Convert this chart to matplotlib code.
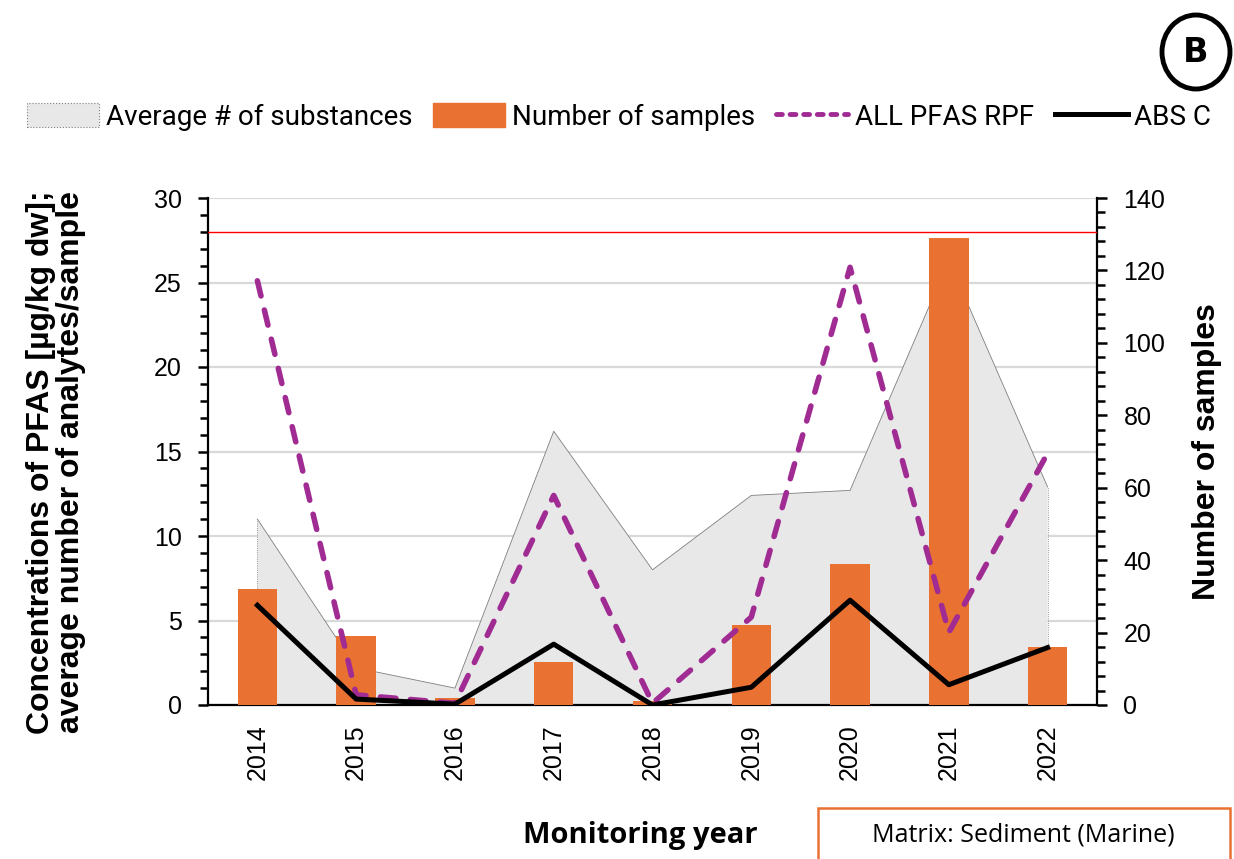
import matplotlib
matplotlib.use("Agg")
import matplotlib.pyplot as plt
import numpy as np
from matplotlib.patches import Patch, Ellipse, Rectangle
from matplotlib.lines import Line2D
from matplotlib.ticker import MultipleLocator

# --- data -------------------------------------------------------------
years = ["2014", "2015", "2016", "2017", "2018", "2019", "2020", "2021", "2022"]
avg_substances = [11.0, 2.2, 1.0, 16.2, 8.0, 12.4, 12.7, 26.3, 12.9]
n_samples = [32, 19, 2, 12, 1, 22, 39, 129, 16]
all_pfas_rpf = [25.1, 0.6, 0.1, 12.4, 0.1, 5.2, 25.9, 4.3, 14.9]
abs_c = [5.9, 0.35, 0.05, 3.6, 0.0, 1.05, 6.2, 1.2, 3.4]
threshold = 28.0

ORANGE = "#E97132"
PURPLE = "#A02B93"
GRAY_FILL = "#E8E8E8"

NARROW = ["Roboto", "Liberation Sans", "DejaVu Sans"]
plt.rcParams["font.family"] = ["Liberation Sans", "DejaVu Sans"]

fig = plt.figure(figsize=(12.34, 8.59), dpi=100)
L, R, B, T = 208 / 1234, 1097 / 1234, 1 - 705 / 859, 1 - 198 / 859
ax = fig.add_axes([L, B, R - L, T - B])
x = np.arange(len(years))

# base axis: grid + average number of substances
ax.set_xlim(-0.5, len(years) - 0.5)
ax.set_ylim(0, 30)
ax.yaxis.set_major_locator(MultipleLocator(5))
ax.yaxis.set_minor_locator(MultipleLocator(1))
ax.grid(axis="y", which="major", color="#d9d9d9", linewidth=1.6, zorder=0)
ax.set_axisbelow(True)
ax.fill_between(x, avg_substances, 0, facecolor=GRAY_FILL, edgecolor="none", zorder=1)
ax.plot(x, avg_substances, color="#7f7f7f", linewidth=0.6, zorder=2)
ax.plot([x[0], x[0]], [0, avg_substances[0]], color="#7f7f7f", linewidth=0.6, linestyle=":", zorder=2)
ax.plot([x[-1], x[-1]], [0, avg_substances[-1]], color="#7f7f7f", linewidth=0.6, linestyle=":", zorder=2)

# bars on the right-hand scale
ax2 = ax.twinx()
ax2.set_ylim(0, 140)
ax2.bar(x, n_samples, width=0.4, color=ORANGE, zorder=3)
ax2.yaxis.set_major_locator(MultipleLocator(20))
ax2.yaxis.set_minor_locator(MultipleLocator(4))

# lines on top, sharing the left scale
ax3 = ax.twinx()
ax3.set_ylim(0, 30)
ax3.axis("off")
ax3.axhline(threshold, color="#FF0000", linewidth=1.0, zorder=4)
ax3.plot(x, all_pfas_rpf, color=PURPLE, linewidth=4.0, linestyle=(0, (2.8, 2.6)),
         dash_capstyle="round", zorder=5)
ax3.plot(x, abs_c, color="black", linewidth=3.6, zorder=6)
ax3.set_xlim(-0.5, len(years) - 0.5)

# spines and ticks
for a in (ax, ax2):
    a.spines["top"].set_visible(False)
ax.spines["right"].set_visible(False)
ax2.spines["left"].set_visible(False)
ax.spines["left"].set_linewidth(1.6)
ax2.spines["right"].set_linewidth(1.6)
ax.spines["bottom"].set_linewidth(1.6)
ax2.spines["bottom"].set_visible(False)

ax.tick_params(axis="y", which="major", direction="out", length=7, width=1.8, labelsize=18, pad=12)
ax.tick_params(axis="y", which="minor", direction="out", length=6, width=1.8)
ax2.tick_params(axis="y", which="major", direction="out", length=7, width=1.8, labelsize=18, pad=12)
ax2.tick_params(axis="y", which="minor", direction="out", length=6, width=1.8)
ax.set_xticks(x)
ax.set_xticklabels(years, rotation=90)
ax.tick_params(axis="x", length=0, labelsize=18, pad=14)
ax2.tick_params(axis="x", length=0)

ax.set_ylabel("Concentrations of PFAS [µg/kg dw];\naverage number of analytes/sample",
              fontsize=23, fontweight="bold", linespacing=1.0)
ax.yaxis.set_label_coords(-(208 - 86) / (1097 - 208), (705 - 462) / (705 - 198))
ax2.set_ylabel("Number of samples", fontsize=23, fontweight="bold")
ax2.yaxis.set_label_coords(1 + (1192 - 1097) / (1097 - 208), 0.5)
fig.text(640 / 1234, 1 - 836 / 859, "Monitoring year", fontsize=21, fontweight="bold",
         ha="center", va="center", family=["Open Sans", "DejaVu Sans"])

# legend
handles = [
    Patch(facecolor=GRAY_FILL, edgecolor="#7f7f7f", linestyle=":", linewidth=0.8),
    Patch(facecolor=ORANGE, edgecolor=ORANGE),
    Line2D([], [], color=PURPLE, linewidth=3.5, linestyle=(0, (1.2, 1.6)), dash_capstyle="round"),
    Line2D([], [], color="black", linewidth=3.6),
]
labels = ["Average # of substances", "Number of samples", "ALL PFAS RPF", "ABS C"]
fig.legend(handles, labels, loc="center", bbox_to_anchor=(619 / 1234, 1 - 117 / 859), ncol=4,
           frameon=False, prop={"family": NARROW, "size": 20}, handlelength=2.6,
           handleheight=0.9, handletextpad=0.25, columnspacing=0.75)

# panel badge
fig.add_artist(Ellipse((1196 / 1234, 1 - 52 / 859), 68 / 1234, 74 / 859,
                       transform=fig.transFigure, facecolor="none", edgecolor="black", linewidth=3.5))
fig.text(1196 / 1234, 1 - 53 / 859, "B", fontsize=24, fontweight="heavy",
         ha="center", va="center", family=["DejaVu Sans"])

# matrix box
fig.add_artist(Rectangle((818 / 1234, -0.02), 412 / 1234, 0.02 + (859 - 808) / 859,
                         transform=fig.transFigure, facecolor="white", edgecolor=ORANGE, linewidth=1.8))
fig.text(1023 / 1234, 1 - 835 / 859, "Matrix: Sediment (Marine)", fontsize=18,
         ha="center", va="center", family=["Open Sans", "DejaVu Sans"])

fig.savefig("out.png", dpi=100)
